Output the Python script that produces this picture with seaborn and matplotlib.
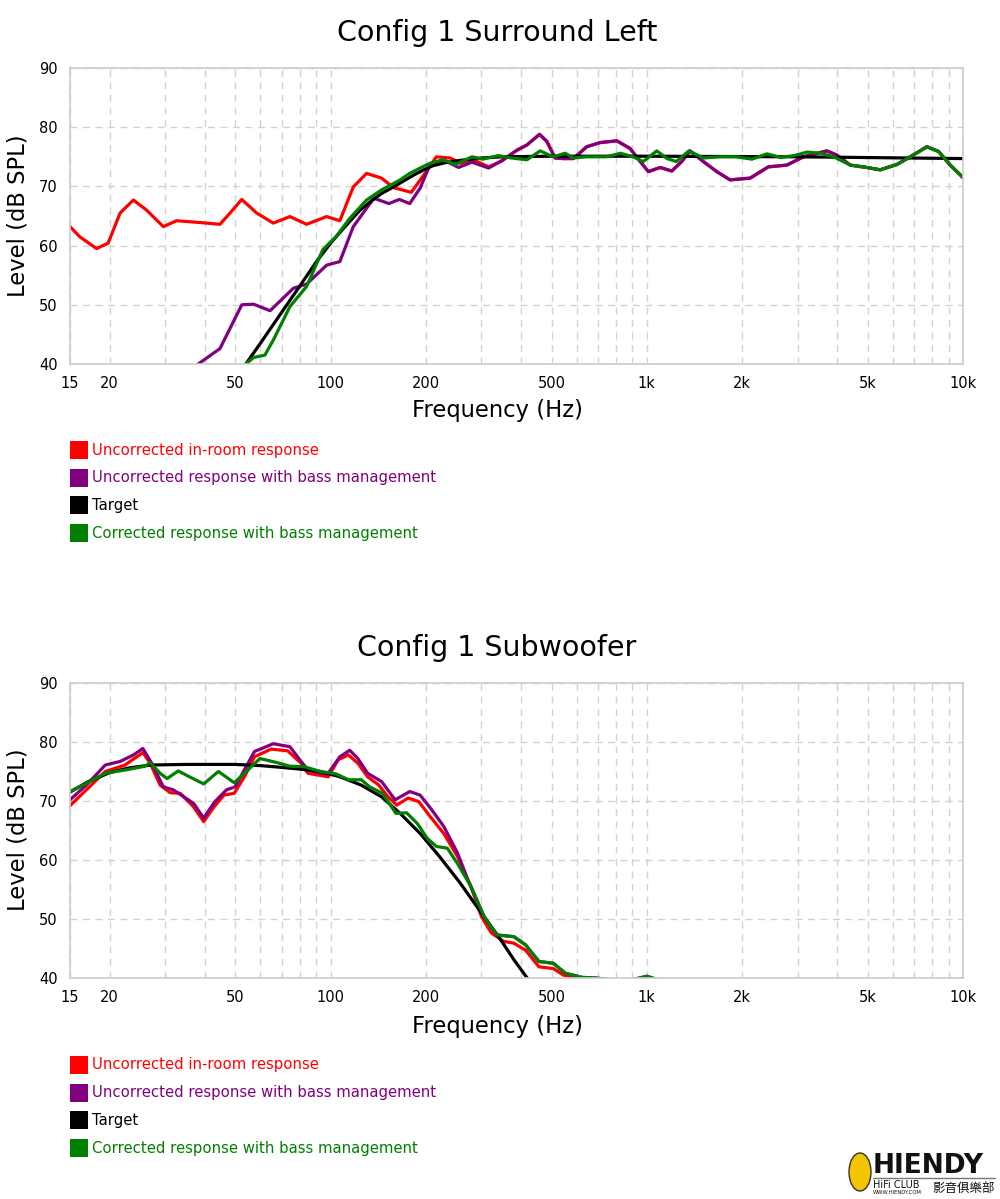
import numpy as np
import pandas as pd
import matplotlib
matplotlib.use("Agg")
import matplotlib.pyplot as plt
import seaborn as sns
from matplotlib.ticker import FixedLocator, NullFormatter
from matplotlib.patches import Rectangle, Ellipse

sns.set_style("white")
plt.rcParams['font.family'] = ['DejaVu Sans', 'Noto Sans CJK TC']
plt.rcParams['text.color'] = 'black'

series_names = ["Uncorrected in-room response",
                "Uncorrected response with bass management",
                "Target",
                "Corrected response with bass management"]
series_colors = ["#ff0000", "#800080", "#000000", "#008000"]

x_ticks = [15, 20, 50, 100, 200, 500, 1000, 2000, 5000, 10000]
x_tick_labels = ["15", "20", "50", "100", "200", "500", "1k", "2k", "5k", "10k"]
x_grid_minor = [30, 40, 60, 70, 80, 90, 300, 400, 600, 700, 800, 900,
                3000, 4000, 6000, 7000, 8000, 9000]
y_ticks = [40, 50, 60, 70, 80, 90]

# ---- Config 1 Surround Left ----
sl_purple_f = [33, 37.7, 44.7, 52.4, 57.1, 64.4, 76.3, 84, 97.2, 107, 118, 137, 153, 165, 178,
               192, 206, 227, 254, 280, 316, 352, 388, 418, 458, 483, 513, 543, 586, 646, 712,
               804, 886, 953, 1012, 1102, 1200, 1290, 1370, 1510, 1665, 1834, 2123, 2424, 2774,
               3130, 3710, 3989, 4398, 4962, 5470, 6180, 6810, 7690, 8370, 9110, 10000]
sl_purple_db = [36.5, 39.8, 42.6, 50.0, 50.1, 49.0, 52.8, 53.5, 56.7, 57.3, 63.2, 68.0, 67.1, 67.8, 67.1,
                69.7, 73.6, 74.5, 73.2, 74.1, 73.1, 74.5, 76.1, 77.0, 78.8, 77.6, 74.8, 74.7, 74.7, 76.7, 77.4,
                77.7, 76.4, 74.2, 72.5, 73.2, 72.6, 74.2, 76.0, 74.2, 72.5, 71.1, 71.4, 73.3, 73.6,
                75.0, 76.0, 75.3, 73.6, 73.2, 72.8, 73.7, 75.0, 76.7, 75.9, 73.6, 71.5]

sl_red_f = [15, 16.1, 18.2, 19.8, 21.6, 23.8, 26.2, 29.6, 32.6, 38.6, 44.7, 48.1, 52.4, 58.4, 65.9,
            74.4, 84, 97.2, 107, 118, 130, 145, 158, 180, 197, 216, 239, 258, 283, 316, 345]
sl_red_db = [63.2, 61.5, 59.5, 60.4, 65.5, 67.7, 66.0, 63.2, 64.2, 63.9, 63.6, 65.5, 67.8, 65.5, 63.8,
             64.9, 63.6, 64.9, 64.2, 69.9, 72.2, 71.4, 69.8, 69.0, 71.9, 75.0, 74.8, 73.9, 74.5, 73.3, 74.2]

sl_green_f = [50, 54.3, 57.1, 62, 66, 74.4, 84, 94.5, 104, 115, 130, 145, 166, 178, 192, 206, 227,
              248, 280, 303, 339, 373, 418, 460, 506, 552, 586, 646, 745, 825, 905, 975, 1075,
              1160, 1240, 1360, 1510, 1705, 1920, 2150, 2400, 2650, 2920, 3220, 3550, 3900]
sl_green_db = [37.5, 40.1, 41.1, 41.5, 44.1, 49.7, 53.1, 59.3, 61.5, 64.6, 67.7, 69.4, 71.1, 72.2, 73.1, 73.9, 74.5,
               73.7, 75.0, 74.6, 75.2, 74.8, 74.5, 76.0, 75.0, 75.6, 74.8, 75.0, 75.0, 75.6, 75.0, 74.2, 76.0,
               74.7, 74.2, 76.0, 74.8, 75.0, 75.0, 74.6, 75.5, 74.9, 75.2, 75.8, 75.6, 75.0]

sl_target_f = [50, 54.3, 60, 70, 80, 90, 100, 112, 124, 135, 145, 158, 170, 183, 197, 211, 230,
               257, 300, 350, 500, 1000, 3000, 10000]
sl_target_db = [37.5, 40.2, 43.5, 48.7, 53.2, 57.2, 60.4, 63.4, 66.0, 67.6, 68.8, 69.9, 70.9, 71.9, 72.8,
                73.5, 74.0, 74.4, 74.8, 75.0, 75.1, 75.1, 75.0, 74.7]

# ---- Config 1 Subwoofer ----
sw_red_f = [15, 16.9, 19.4, 22.4, 23.8, 25.5, 26.9, 28.9, 31.1, 33.5, 36.9, 39.7, 42.8, 46.0, 49.6,
            53.4, 57.5, 64.9, 73.2, 80.7, 84.8, 91.3, 98.3, 105.8, 113.9, 122, 131, 142, 152, 162,
            176, 190, 207, 228, 252, 278, 300, 323, 353, 380, 414, 456, 506, 545, 600, 700]
sw_red_db = [69.2, 71.9, 75.0, 76.1, 77.1, 78.2, 76.4, 72.7, 71.4, 71.3, 69.0, 66.5, 69.0, 71.0, 71.3,
             74.1, 77.5, 78.8, 78.5, 76.4, 74.7, 74.4, 74.1, 77.0, 77.8, 76.4, 74.1, 72.7, 70.7, 69.3,
             70.5, 69.9, 67.3, 64.5, 60.6, 55.5, 50.4, 47.6, 46.2, 45.9, 44.7, 41.9, 41.6, 40.5, 39.9, 38.0]

sw_green_f = [15, 16.9, 19.4, 22.7, 25.9, 26.9, 28.9, 30.4, 33, 35.8, 39.7, 44.2, 49.6, 53.4, 59.8,
              67.8, 74.4, 82.7, 93, 104, 114, 125, 133, 146, 161, 174, 188, 202, 216, 234, 252, 278,
              306, 336, 380, 414, 456, 506, 553, 624, 690, 800, 900, 1000, 1100, 1300]
sw_green_db = [71.6, 73.0, 74.7, 75.3, 75.9, 76.5, 74.7, 73.8, 75.1, 74.1, 72.9, 75.0, 73.1, 74.7, 77.2,
               76.5, 75.9, 75.8, 75.0, 74.6, 73.6, 73.6, 72.4, 71.3, 67.9, 68.0, 66.2, 63.7, 62.3, 62.0, 59.4, 55.5,
               50.4, 47.3, 47.0, 45.6, 42.8, 42.5, 40.8, 40.1, 40.0, 39.6, 39.7, 40.3, 39.6, 37.0]

sw_purple_f = [15, 16.9, 19.4, 21.6, 23.8, 25.5, 27.2, 29.6, 31.8, 36.9, 39.7, 43.1, 46.9, 49.9, 57.5,
               65.9, 74.4, 80.7, 84.8, 92.6, 98, 107, 115, 122, 131, 145, 160, 178, 192, 209, 228, 252, 272]
sw_purple_db = [70.2, 72.7, 76.1, 76.7, 77.8, 78.9, 76.4, 72.4, 71.9, 69.6, 67.1, 69.9, 71.9, 72.4, 78.4,
                79.7, 79.2, 76.7, 75.3, 74.7, 74.6, 77.5, 78.6, 77.2, 74.7, 73.3, 70.2, 71.6, 71.0, 68.5, 65.7, 61.2, 56.6]

sw_target_f = [15, 17, 20, 23, 27, 35, 50, 60, 70, 80, 93, 107, 125, 145, 166, 192, 221, 257, 300,
               346, 380, 420, 450]
sw_target_db = [71.5, 73.2, 74.8, 75.6, 76.1, 76.2, 76.2, 76.0, 75.7, 75.4, 75.0, 74.1, 72.7, 70.7, 67.9,
                64.5, 60.6, 56.1, 51.0, 46.4, 43.1, 39.9, 37.5]

# the hidden parts of some traces lie exactly under another trace
sl_red_f = sl_red_f + sl_purple_f[21:]
sl_red_db = sl_red_db + sl_purple_db[21:]
sl_green_f = sl_green_f + sl_purple_f[48:]
sl_green_db = sl_green_db + sl_purple_db[48:]
sw_purple_f = sw_purple_f + sw_green_f[32:]
sw_purple_db = sw_purple_db + sw_green_db[32:]


def build_frame(curves):
    parts = []
    for name, (f, db) in zip(series_names, curves):
        parts.append(pd.DataFrame({"freq": f, "level": db, "series": name}))
    return pd.concat(parts, ignore_index=True)


top_df = build_frame([(sl_red_f, sl_red_db), (sl_purple_f, sl_purple_db),
                      (sl_target_f, sl_target_db), (sl_green_f, sl_green_db)])
bot_df = build_frame([(sw_red_f, sw_red_db), (sw_purple_f, sw_purple_db),
                      (sw_target_f, sw_target_db), (sw_green_f, sw_green_db)])

W, H = 1000, 1199
fig = plt.figure(figsize=(10, 11.99), dpi=100)
ax1 = fig.add_axes([70 / W, 1 - 364 / H, 893 / W, 296 / H])
ax2 = fig.add_axes([70 / W, 1 - 978 / H, 893 / W, 295 / H])

palette = dict(zip(series_names, series_colors))
grid_col = "#d2d2d2"


def draw_panel(ax, df, title, title_y, label_y, legend_y0, mid):
    sns.lineplot(data=df, x="freq", y="level", hue="series", hue_order=series_names,
                 palette=palette, linewidth=2.3, legend=False, ax=ax,
                 estimator=None, sort=True, solid_joinstyle="round", solid_capstyle="round")
    ax.set_xscale("log")
    ax.set_xlim(15, 10000)
    ax.set_ylim(40, 90)
    ax.xaxis.set_major_locator(FixedLocator(x_ticks))
    ax.set_xticklabels(x_tick_labels)
    ax.xaxis.set_minor_locator(FixedLocator(x_grid_minor))
    ax.xaxis.set_minor_formatter(NullFormatter())
    ax.set_yticks(y_ticks)
    ax.tick_params(axis="both", which="both", length=0, labelsize=10.5, colors="#000000")
    ax.tick_params(axis="x", pad=9)
    ax.tick_params(axis="y", pad=9)
    ax.grid(True, which="both", color=grid_col, linestyle=(0, (5, 4)), linewidth=1.0)
    ax.set_axisbelow(True)
    for sp in ax.spines.values():
        sp.set_color("#cccccc")
        sp.set_linewidth(1.2)
    ax.set_xlabel("")
    ax.set_ylabel("")

    cx = 0.497
    fig.text(cx, 1 - title_y / H, title, ha="center", va="center", fontsize=20.5, color="black")
    fig.text(cx, 1 - label_y / H, "Frequency (Hz)", ha="center", va="center", fontsize=16.3, color="black")
    fig.text(0.018, 1 - mid / H, "Level (dB SPL)", rotation=90, ha="center", va="center",
             fontsize=16.3, color="black")

    for i, (name, col) in enumerate(zip(series_names, series_colors)):
        yc = legend_y0 + i * 27.7
        fig.patches.append(Rectangle((70 / W, 1 - (yc + 9) / H), 18 / W, 18 / H,
                                     transform=fig.transFigure, facecolor=col, edgecolor="none"))
        fig.text(92 / W, 1 - yc / H, name, color=col, ha="left", va="center", fontsize=10.7)


draw_panel(ax1, top_df, "Config 1 Surround Left", 33, 411, 450, 216)
draw_panel(ax2, bot_df, "Config 1 Subwoofer", 648, 1026, 1065, 830)

# watermark
fig.patches.append(Ellipse((860 / W, 1 - 1172 / H), 22 / W, 38 / H, angle=0,
                           transform=fig.transFigure, facecolor="#f2c500",
                           edgecolor="#333333", linewidth=1))
fig.text(873 / W, 1 - 1166 / H, "HIENDY", fontsize=19, fontweight="bold",
         ha="left", va="center", color="#111111")
fig.lines.append(plt.Line2D([873 / W, 995 / W], [1 - 1178 / H, 1 - 1178 / H],
                            transform=fig.transFigure, color="#777777", linewidth=1))
fig.text(873 / W, 1 - 1185 / H, "HiFi CLUB", fontsize=7, ha="left", va="center", color="#111111")
fig.text(873 / W, 1 - 1193 / H, "WWW.HIENDY.COM", fontsize=3.8, ha="left", va="center", color="#111111")
fig.text(932 / W, 1 - 1188 / H, "影音俱樂部", fontsize=9, ha="left", va="center",
         color="#111111", family=["Noto Sans CJK TC", "DejaVu Sans"])

fig.savefig("out.png", dpi=100, facecolor="white")
